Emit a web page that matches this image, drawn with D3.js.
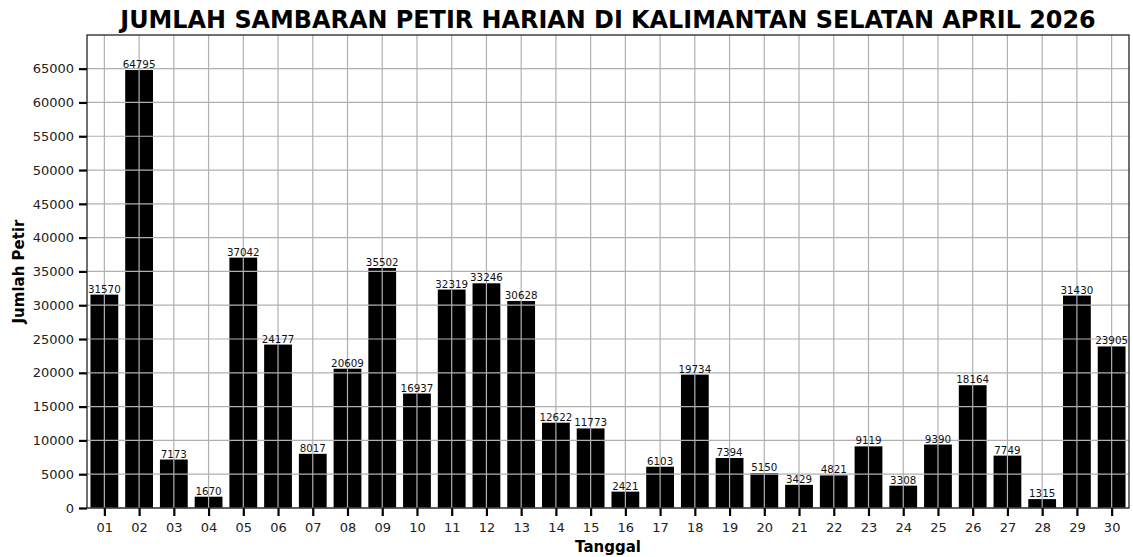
<!DOCTYPE html>
<html>
<head>
<meta charset="utf-8">
<script src="https://cdn.jsdelivr.net/npm/d3@7"></script>
<style>
  html, body { margin: 0; padding: 0; background: #fff; }
  svg { display: block; font-family: "DejaVu Sans", sans-serif; }
</style>
</head>
<body>
<svg id="chart" width="1133" height="557"></svg>
<script>
// Daily lightning strike counts, South Kalimantan, April 2026
const days = ["01","02","03","04","05","06","07","08","09","10",
              "11","12","13","14","15","16","17","18","19","20",
              "21","22","23","24","25","26","27","28","29","30"];
const strikes = [31570, 64795, 7173, 1670, 37042, 24177, 8017, 20609, 35502, 16937,
                 32319, 33246, 30628, 12622, 11773, 2421, 6103, 19734, 7394, 5150,
                 3429, 4821, 9119, 3308, 9390, 18164, 7749, 1315, 31430, 23905];
const yTicks = [0, 5000, 10000, 15000, 20000, 25000, 30000, 35000,
                40000, 45000, 50000, 55000, 60000, 65000];

const plotL = 87, plotR = 1129, plotT = 35, plotB = 508;

const svg = d3.select("#chart");

const x = d3.scaleLinear().domain([-0.5, days.length - 0.5]).range([plotL, plotR]);
const y = d3.scaleLinear().domain([0, d3.max(strikes) * 1.08]).range([plotB, plotT]);
const barW = x(0.8) - x(0);

// bars
svg.append("g")
  .selectAll("rect")
  .data(strikes)
  .join("rect")
  .attr("x", (d, i) => x(i) - barW / 2)
  .attr("y", d => y(d))
  .attr("width", barW)
  .attr("height", d => y(0) - y(d))
  .attr("fill", "#000");

// grid drawn over the bars
const grid = svg.append("g").attr("stroke", "#b0b0b0").attr("stroke-width", 1.2);
grid.selectAll("line.v")
  .data(days)
  .join("line")
  .attr("class", "v")
  .attr("x1", (d, i) => x(i)).attr("x2", (d, i) => x(i))
  .attr("y1", plotT).attr("y2", plotB);
grid.selectAll("line.h")
  .data(yTicks)
  .join("line")
  .attr("class", "h")
  .attr("x1", plotL).attr("x2", plotR)
  .attr("y1", d => y(d)).attr("y2", d => y(d));

// value labels
svg.append("g")
  .selectAll("text")
  .data(strikes)
  .join("text")
  .attr("x", (d, i) => x(i))
  .attr("y", d => y(d) - 2)
  .attr("text-anchor", "middle")
  .attr("font-size", 10.3)
  .attr("fill", "#111")
  .text(d => d);

// axes
const xAxis = d3.axisBottom(x)
  .tickValues(d3.range(days.length))
  .tickFormat(i => days[i])
  .tickSize(8)
  .tickPadding(7)
  .tickSizeOuter(0);
const gx = svg.append("g").attr("transform", `translate(0,${plotB})`).call(xAxis);
gx.select(".domain").remove();
gx.selectAll(".tick line").attr("stroke", "#000").attr("stroke-width", 2.2);
gx.selectAll(".tick text").attr("font-size", 13).attr("fill", "#222")
  .attr("font-family", "DejaVu Sans");

const yAxis = d3.axisLeft(y)
  .tickValues(yTicks)
  .tickFormat(d3.format("d"))
  .tickSize(8)
  .tickPadding(5)
  .tickSizeOuter(0);
const gy = svg.append("g").attr("transform", `translate(${plotL},0)`).call(yAxis);
gy.select(".domain").remove();
gy.selectAll(".tick line").attr("stroke", "#000").attr("stroke-width", 2.2);
gy.selectAll(".tick text").attr("font-size", 13).attr("fill", "#222")
  .attr("font-family", "DejaVu Sans");

// frame
svg.append("rect")
  .attr("x", plotL).attr("y", plotT)
  .attr("width", plotR - plotL).attr("height", plotB - plotT)
  .attr("fill", "none").attr("stroke", "#222").attr("stroke-width", 1.3);

// titles
svg.append("text")
  .attr("x", (plotL + plotR) / 2).attr("y", 28)
  .attr("text-anchor", "middle")
  .attr("font-size", 23.9).attr("font-weight", "bold")
  .text("JUMLAH SAMBARAN PETIR HARIAN DI KALIMANTAN SELATAN APRIL 2026");

svg.append("text")
  .attr("x", (plotL + plotR) / 2).attr("y", 552)
  .attr("text-anchor", "middle")
  .attr("font-size", 15).attr("font-weight", "bold")
  .text("Tanggal");

svg.append("text")
  .attr("transform", `translate(24,${(plotT + plotB) / 2}) rotate(-90)`)
  .attr("text-anchor", "middle")
  .attr("font-size", 15).attr("font-weight", "bold")
  .text("Jumlah Petir");
</script>
</body>
</html>
